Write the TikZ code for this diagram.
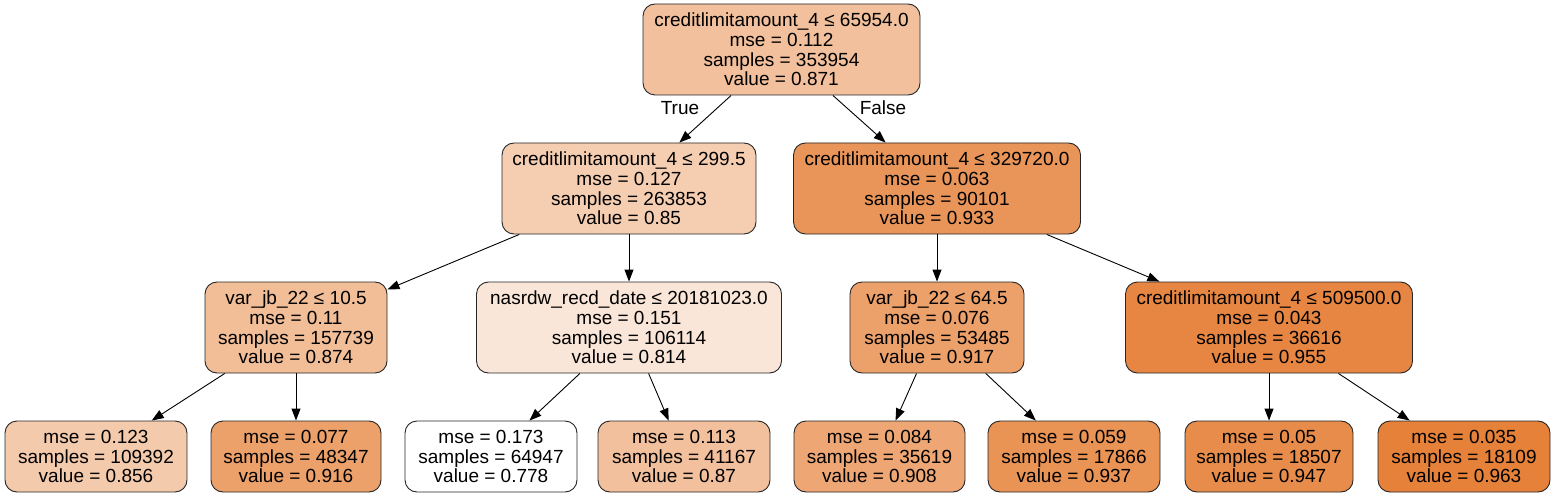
\documentclass[tikz,border=0pt]{standalone}
\usepackage{fontspec}
\setmainfont{Liberation Sans}
\usetikzlibrary{arrows.meta}
\definecolor{c871}{HTML}{F2C09C}
\definecolor{c850}{HTML}{F5CEB2}
\definecolor{c933}{HTML}{E99559}
\definecolor{c874}{HTML}{F2BE98}
\definecolor{c814}{HTML}{FAE6D8}
\definecolor{c917}{HTML}{ECA06A}
\definecolor{c955}{HTML}{E68642}
\definecolor{c856}{HTML}{F4CAAC}
\definecolor{c916}{HTML}{ECA16B}
\definecolor{c778}{HTML}{FFFFFF}
\definecolor{c870}{HTML}{F2C09D}
\definecolor{c908}{HTML}{EDA674}
\definecolor{c937}{HTML}{E99355}
\definecolor{c947}{HTML}{E78C4A}
\definecolor{c963}{HTML}{E58139}
\tikzset{
  tn/.style={draw=black!85, line width=0.9pt, rounded corners=12pt, inner sep=0pt,
    align=center, font=\fontsize{19}{19.8}\selectfont, minimum height=91pt},
  lf/.style={tn, minimum height=71pt},
  edge/.style={line width=0.9pt, -{Triangle[length=12pt,width=9pt]}},
  elab/.style={font=\fontsize{19}{19.8}\selectfont, inner sep=0pt}
}
\begin{document}
\begin{tikzpicture}[x=1pt,y=-1pt]
\useasboundingbox (0,0) rectangle (1555,497);
% level 0
\node[tn, fill=c871, minimum width=277pt] (root) at (781.5,49.5)
  {creditlimitamount\_4 ≤ 65954.0\\mse = 0.112\\samples = 353954\\value = 0.871};
% level 1
\node[tn, fill=c850, minimum width=254pt] (n1) at (629,188.5)
  {creditlimitamount\_4 ≤ 299.5\\mse = 0.127\\samples = 263853\\value = 0.85};
\node[tn, fill=c933, minimum width=287pt] (n2) at (937,188.5)
  {creditlimitamount\_4 ≤ 329720.0\\mse = 0.063\\samples = 90101\\value = 0.933};
% level 2
\node[tn, fill=c874, minimum width=182pt] (n3) at (296,327.5)
  {var\_jb\_22 ≤ 10.5\\mse = 0.11\\samples = 157739\\value = 0.874};
\node[tn, fill=c814, minimum width=305pt] (n4) at (629,327.5)
  {nasrdw\_recd\_date ≤ 20181023.0\\mse = 0.151\\samples = 106114\\value = 0.814};
\node[tn, fill=c917, minimum width=174pt] (n5) at (937,327.5)
  {var\_jb\_22 ≤ 64.5\\mse = 0.076\\samples = 53485\\value = 0.917};
\node[tn, fill=c955, minimum width=287pt] (n6) at (1269,327.5)
  {creditlimitamount\_4 ≤ 509500.0\\mse = 0.043\\samples = 36616\\value = 0.955};
% leaves
\node[lf, fill=c856, minimum width=182pt] (l1) at (96,456.5)
  {mse = 0.123\\samples = 109392\\value = 0.856};
\node[lf, fill=c916, minimum width=170pt] (l2) at (296,456.5)
  {mse = 0.077\\samples = 48347\\value = 0.916};
\node[lf, fill=c778, minimum width=172pt] (l3) at (491,456.5)
  {mse = 0.173\\samples = 64947\\value = 0.778};
\node[lf, fill=c870, minimum width=172pt] (l4) at (684,456.5)
  {mse = 0.113\\samples = 41167\\value = 0.87};
\node[lf, fill=c908, minimum width=171pt] (l5) at (879.5,456.5)
  {mse = 0.084\\samples = 35619\\value = 0.908};
\node[lf, fill=c937, minimum width=172pt] (l6) at (1074,456.5)
  {mse = 0.059\\samples = 17866\\value = 0.937};
\node[lf, fill=c947, minimum width=168pt] (l7) at (1269,456.5)
  {mse = 0.05\\samples = 18507\\value = 0.947};
\node[lf, fill=c963, minimum width=172pt] (l8) at (1464,456.5)
  {mse = 0.035\\samples = 18109\\value = 0.963};
% edges
\draw[edge] (root) -- (n1);
\draw[edge] (root) -- (n2);
\draw[edge] (n1) -- (n3);
\draw[edge] (n1) -- (n4);
\draw[edge] (n2) -- (n5);
\draw[edge] (n2) -- (n6);
\draw[edge] (n3) -- (l1);
\draw[edge] (n3) -- (l2);
\draw[edge] (n4) -- (l3);
\draw[edge] (n4) -- (l4);
\draw[edge] (n5) -- (l5);
\draw[edge] (n5) -- (l6);
\draw[edge] (n6) -- (l7);
\draw[edge] (n6) -- (l8);
\node[elab] (tlab) at (680,108) {True};
\node[elab] (flab) at (883,108) {False};
\end{tikzpicture}
\end{document}
